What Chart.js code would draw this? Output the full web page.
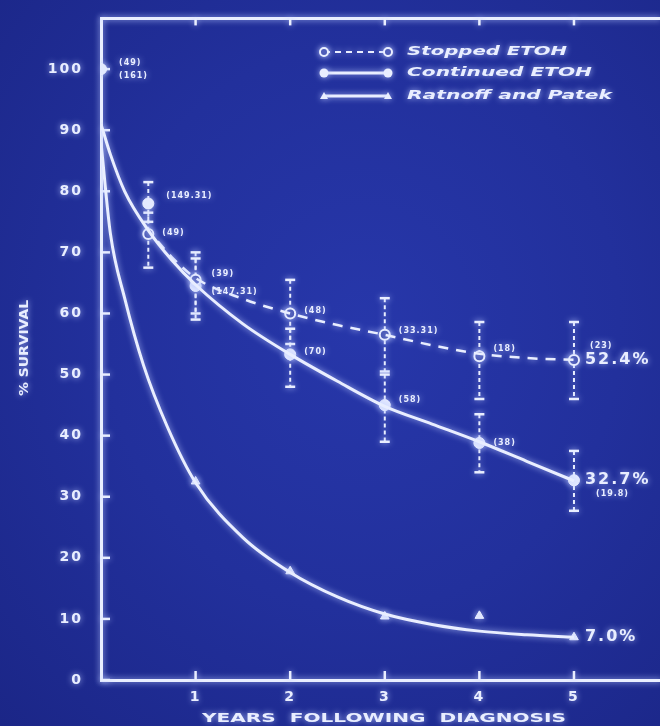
<!DOCTYPE html>
<html><head><meta charset="utf-8">
<script src="https://cdn.jsdelivr.net/npm/chart.js@4.4.1/dist/chart.umd.min.js"></script>
<style>
html,body{margin:0;padding:0;width:660px;height:726px;overflow:hidden;
background: radial-gradient(ellipse at 55% 45%, #2737aa 0%, #22309c 50%, #1b2687 100%);}
#wrap{position:relative;width:660px;height:726px;overflow:hidden;}
canvas{display:block;}
</style></head><body>
<div id="wrap"><canvas id="c" width="668" height="726"></canvas></div>
<script>
// ---- data ----
const yearTicks = [1, 2, 3, 4, 5];
const survivalTicks = [0, 10, 20, 30, 40, 50, 60, 70, 80, 90, 100];

// Stopped ETOH (open circles, dashed)
const stoppedX  = [0.5, 1, 2, 3, 4, 5];
const stoppedY  = [73, 65.5, 60, 56.5, 53, 52.4];
const stoppedHi = [76.5, 70, 65.5, 62.5, 58.6, 58.6];
const stoppedLo = [67.5, 60, 55, 50.5, 46, 46];

// Continued ETOH (filled circles, solid)
const continuedX  = [0, 0.5, 1, 2, 3, 4, 5];
const continuedY  = [100, 78, 64.5, 53.3, 45, 38.8, 32.7];
const continuedHi = [null, 81.5, 69, 57.5, 50, 43.5, 37.5];
const continuedLo = [null, 75, 59, 48, 39, 34, 27.7];

// Ratnoff and Patek (triangles)
const ratnoffX = [1, 2, 3, 4, 5];
const ratnoffY = [32.5, 17.8, 10.4, 10.5, 7.0];

// fitted curves
const curveX          = [0, 0.1, 0.25, 0.5, 0.75, 1, 1.5, 2, 2.5, 3, 3.5, 4, 4.5, 5];
const continuedCurve  = [91, 86, 80, 73.6, 68.7, 64.7, 58.3, 53.3, 48.9, 44.8, 41.9, 39, 35.8, 32.6];
const stoppedCurveX   = [0.6, 0.75, 1, 1.5, 2, 2.5, 3, 3.5, 4, 4.5, 5];
const stoppedCurve    = [71.8, 69.2, 65.8, 62.4, 60, 58.1, 56.5, 54.8, 53.4, 52.7, 52.4];
const ratnoffCurveX   = [0, 0.1, 0.25, 0.45, 0.7, 1, 1.5, 2, 2.5, 3, 3.5, 4, 4.5, 5];
const ratnoffCurve    = [88, 73, 62.5, 51.5, 41.5, 32.3, 23.3, 17.6, 13.6, 10.8, 9.1, 8.0, 7.4, 7.0];

// small annotations (sample sizes and end values)
const noteText = ['(49)', '(161)', '(149.31)', '(49)', '(39)', '(147.31)', '(48)', '(70)', '(33.31)', '(58)', '(18)', '(38)', '(23)', '(19.8)'];
const noteX    = [0, 0, 0.5, 0.5, 1, 1, 2, 2, 3, 3, 4, 4, 5, 5];
const noteY    = [100, 100, 78, 73, 65.5, 64.5, 60, 53.3, 56.5, 45, 53, 38.8, 52.4, 32.7];
const endText  = ['52.4%', '32.7%', '7.0%'];
const endY     = [52.4, 32.7, 7.0];

const legendText = ['Stopped ETOH', 'Continued ETOH', 'Ratnoff and Patek'];

// ---- style ----
const INK = '#e9eeff';
const BG = '#22309c';
const SANS = '"DejaVu Sans", sans-serif';

function pts(xs, ys){ return xs.map((x,i)=>({x:x, y:ys[i]})); }

function glow(ctx){
  ctx.shadowColor = 'rgba(185,200,255,0.9)';
  ctx.shadowBlur = 6;
  ctx.letterSpacing = '2px';
}

function stretchText(ctx, txt, x, y, w, align){
  const m = ctx.measureText(txt).width;
  const s = w / m;
  ctx.save();
  ctx.translate(x, y);
  ctx.scale(s, 1);
  ctx.textAlign = align || 'left';
  ctx.fillText(txt, 0, 0);
  ctx.restore();
}

const decor = {
  id: 'decor',
  beforeUpdate(chart){ chart.ctx.letterSpacing = '2px'; },
  beforeDraw(chart){ glow(chart.ctx); },
  beforeDatasetsDraw(chart){
    const ctx = chart.ctx, xs = chart.scales.x, ys = chart.scales.y, ca = chart.chartArea;
    ctx.save();
    glow(ctx);
    ctx.strokeStyle = INK;
    ctx.lineWidth = 3;
    ctx.beginPath();
    ctx.moveTo(ca.left, ca.top); ctx.lineTo(ca.right, ca.top);
    ctx.stroke();
    ctx.lineWidth = 2.5;
    yearTicks.forEach(v=>{
      const px = xs.getPixelForValue(v);
      ctx.beginPath(); ctx.moveTo(px, ca.bottom); ctx.lineTo(px, ca.bottom-9); ctx.stroke();
      ctx.beginPath(); ctx.moveTo(px, ca.top); ctx.lineTo(px, ca.top+7); ctx.stroke();
    });
    survivalTicks.forEach(v=>{
      const py = ys.getPixelForValue(v);
      ctx.beginPath(); ctx.moveTo(ca.left, py); ctx.lineTo(ca.left+9, py); ctx.stroke();
    });
    function bars(X, HI, LO){
      X.forEach((x,i)=>{
        if (HI[i] == null) return;
        const px = xs.getPixelForValue(x);
        const a = ys.getPixelForValue(HI[i]), b = ys.getPixelForValue(LO[i]);
        ctx.lineWidth = 2;
        ctx.setLineDash([4,3]);
        ctx.beginPath(); ctx.moveTo(px, a); ctx.lineTo(px, b); ctx.stroke();
        ctx.setLineDash([]);
        ctx.lineWidth = 2.5;
        ctx.beginPath(); ctx.moveTo(px-5, a); ctx.lineTo(px+5, a); ctx.stroke();
        ctx.beginPath(); ctx.moveTo(px-5, b); ctx.lineTo(px+5, b); ctx.stroke();
      });
    }
    bars(stoppedX, stoppedHi, stoppedLo);
    bars(continuedX, continuedHi, continuedLo);
    ctx.restore();
  },
  afterDraw(chart){
    const ctx = chart.ctx, xs = chart.scales.x, ys = chart.scales.y;
    ctx.save();
    glow(ctx);
    ctx.fillStyle = INK; ctx.strokeStyle = INK;
    ctx.textBaseline = 'middle';
    ctx.font = 'bold 8px ' + SANS;
    ctx.letterSpacing = '1px';
    const offs = [[18,-6],[18,7],[18,-8],[14,-1],[16,-6],[16,6],[14,-3],[14,-2],[14,-4],[14,-5],[14,-7],[14,0],[16,-14],[22,14]];
    noteText.forEach((t,i)=>{
      const px = xs.getPixelForValue(noteX[i]) + offs[i][0];
      const py = ys.getPixelForValue(noteY[i]) + offs[i][1];
      ctx.fillText(t, px, py);
    });
    ctx.font = 'bold 16px ' + SANS;
    ctx.letterSpacing = '2px';
    endText.forEach((t,i)=>{
      const px = xs.getPixelForValue(5) + 11;
      const py = ys.getPixelForValue(endY[i]);
      ctx.fillText(t, px, py);
    });
    const rows = [52, 73, 96];
    const widths = [160, 185, 205];
    rows.forEach((ry,i)=>{
      ctx.lineWidth = i === 0 ? 2 : 3;
      ctx.setLineDash(i === 0 ? [6,5] : []);
      ctx.beginPath(); ctx.moveTo(324, ry); ctx.lineTo(388, ry); ctx.stroke();
      ctx.setLineDash([]);
      [324, 388].forEach(mx=>{
        ctx.beginPath();
        if (i === 2){
          ctx.moveTo(mx, ry-4); ctx.lineTo(mx+4, ry+3); ctx.lineTo(mx-4, ry+3); ctx.closePath(); ctx.fill();
        } else {
          ctx.arc(mx, ry, i === 0 ? 4 : 4.5, 0, Math.PI*2);
          if (i === 0){ ctx.fillStyle = BG; ctx.fill(); ctx.fillStyle = INK; ctx.lineWidth = 2; ctx.stroke(); }
          else ctx.fill();
        }
      });
      ctx.font = 'bold italic 13px ' + SANS;
      ctx.letterSpacing = '0px';
      stretchText(ctx, legendText[i], 407, ry, widths[i]);
    });
    ctx.font = 'bold 12px ' + SANS;
    ctx.letterSpacing = '0px';
    stretchText(ctx, 'YEARS  FOLLOWING  DIAGNOSIS', 384, 719, 364, 'center');
    ctx.save();
    ctx.translate(25, 348);
    ctx.rotate(-Math.PI/2);
    ctx.font = 'bold 12px ' + SANS;
    stretchText(ctx, '% SURVIVAL', 0, 0, 96, 'center');
    ctx.restore();
    ctx.restore();
  }
};

new Chart(document.getElementById('c'), {
  type: 'scatter',
  data: {
    datasets: [
      { data: pts(curveX, continuedCurve), showLine: true, borderColor: INK, borderWidth: 3,
        pointRadius: 0, cubicInterpolationMode: 'monotone', fill: false },
      { data: pts(stoppedCurveX, stoppedCurve), showLine: true, borderColor: INK, borderWidth: 2.5,
        borderDash: [10, 8], pointRadius: 0, cubicInterpolationMode: 'monotone', fill: false },
      { data: pts(ratnoffCurveX, ratnoffCurve), showLine: true, borderColor: INK, borderWidth: 3,
        pointRadius: 0, cubicInterpolationMode: 'monotone', fill: false },
      { data: pts(stoppedX, stoppedY), pointStyle: 'circle', pointRadius: 5,
        backgroundColor: BG, borderColor: INK, borderWidth: 2 },
      { data: pts(continuedX, continuedY), pointStyle: 'circle', pointRadius: 5.5,
        backgroundColor: INK, borderColor: INK, borderWidth: 1 },
      { data: pts(ratnoffX, ratnoffY), pointStyle: 'triangle', pointRadius: 5,
        backgroundColor: INK, borderColor: INK, borderWidth: 1 }
    ]
  },
  options: {
    responsive: false,
    devicePixelRatio: 1,
    animation: false,
    events: [],
    layout: { padding: { top: 8, right: 0, left: 0, bottom: 0 } },
    plugins: { legend: { display: false }, tooltip: { enabled: false } },
    scales: {
      x: {
        type: 'linear', min: 0, max: 5.92,
        afterBuildTicks: s => { s.ticks = yearTicks.map(v => ({ value: v })); },
        afterFit: s => { s.height = 46; },
        ticks: { color: INK, font: { family: SANS, size: 14, weight: 'bold' }, padding: 1,
                 callback: v => String(v) },
        grid: { display: false },
        border: { display: true, color: INK, width: 3 }
      },
      y: {
        min: 0, max: 108.3,
        afterBuildTicks: s => { s.ticks = survivalTicks.map(v => ({ value: v })); },
        afterFit: s => { s.width = 101; },
        ticks: { color: INK, font: { family: SANS, size: 14, weight: 'bold' }, padding: 10,
                 callback: v => String(v) },
        grid: { display: false },
        border: { display: true, color: INK, width: 3 }
      }
    }
  },
  plugins: [decor]
});
</script>
</body></html>
